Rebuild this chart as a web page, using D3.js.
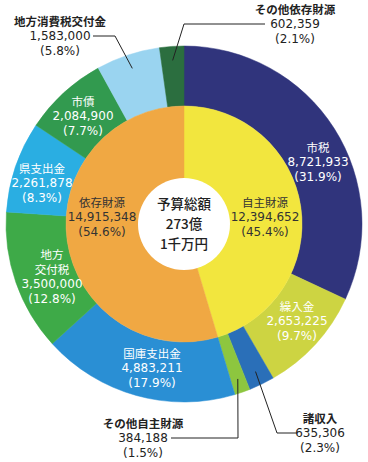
<!DOCTYPE html>
<html>
<head>
<meta charset="utf-8">
<script src="https://cdn.jsdelivr.net/npm/d3@7"></script>
<style>
	body { margin: 0; background: #fff; }
	svg text { font-family: "Noto Sans CJK JP", "Noto Sans", sans-serif; }
	svg tspan.num { font-family: "DejaVu Sans", "Noto Sans", sans-serif; }
</style>
</head>
<body>
<svg id="chart" width="368" height="462"></svg>
<script>
// data
var groups	= ["自主財源", "依存財源"];
var groupValues	= [12394652, 14915348];
var groupPct	= ["45.4%", "54.6%"];

var items	= ["市税", "繰入金", "諸収入", "その他自主財源", "国庫支出金", "地方交付税", "県支出金", "市債", "地方消費税交付金", "その他依存財源"];
var itemValues	= [8721933, 2653225, 635306, 384188, 4883211, 3500000, 2261878, 2084900, 1583000, 602359];
var itemPct	= ["31.9%", "9.7%", "2.3%", "1.5%", "17.9%", "12.8%", "8.3%", "7.7%", "5.8%", "2.1%"];
var centerText	= ["予算総額", "273億", "1千万円"];

// layout
var cx = 184, cy = 224, rOut = 178, rMid = 118, rHole = 46;
var groupColor	= ["#f2e63e", "#f0a843"];
var itemColor	= ["#30347c", "#cdd442", "#2a6fb8", "#8dc63f", "#2a8fd4", "#3eaa48", "#2aaee2", "#329a4f", "#9ad4f0", "#2b6e3f"];

// where each label block sits (first line), outside ones get a leader line
var itemLabel = {
	"市税":		{x: 318, y: 147},
	"繰入金":	{x: 297, y: 306},
	"諸収入":	{x: 320, y: 418, out: true, elbow: [297, 277]},
	"その他自主財源":	{x: 143, y: 423, out: true, elbow: [171, 238]},
	"国庫支出金":	{x: 152, y: 353},
	"地方交付税":	{x: 52, y: 254, lines: ["地方", "交付税"]},
	"県支出金":	{x: 42, y: 168},
	"市債":		{x: 83, y: 101},
	"地方消費税交付金":	{x: 60, y: 21, out: true, elbow: [93, 115]},
	"その他依存財源":	{x: 295, y: 9, out: true, elbow: [265, 184]}
};
var groupLabel = [{x: 265, y: 202}, {x: 102, y: 202}];
var lh = 15;

var svg = d3.select("#chart");
var g = svg.append("g").attr("transform", "translate(" + cx + "," + cy + ")");

var pie = d3.pie().sort(null).value(function(d) { return d; });
var innerArc = d3.arc().innerRadius(0).outerRadius(rMid);
var outerArc = d3.arc().innerRadius(rMid).outerRadius(rOut);
var anchorArc = d3.arc().innerRadius(164).outerRadius(164);

var outerData = pie(itemValues);

g.selectAll("path.outer").data(outerData).enter().append("path")
	.attr("class", "outer")
	.attr("d", outerArc)
	.attr("fill", function(d, i) { return itemColor[i]; })
	.attr("stroke", function(d, i) { return itemColor[i]; })
	.attr("stroke-width", 0.5);

g.selectAll("path.inner").data(pie(groupValues)).enter().append("path")
	.attr("class", "inner")
	.attr("d", innerArc)
	.attr("fill", function(d, i) { return groupColor[i]; })
	.attr("stroke", function(d, i) { return groupColor[i]; })
	.attr("stroke-width", 0.5);

g.append("circle").attr("r", rHole).attr("fill", "#fff");

// leader lines
outerData.forEach(function(d, i) {
	var L = itemLabel[items[i]];
	if (!L.out) return;
	var a = anchorArc.centroid(d);
	var ly = L.y + lh;
	svg.append("polyline")
		.attr("points", [[L.elbow[0], ly], [L.elbow[1], ly], [a[0] + cx, a[1] + cy]].map(function(p) { return p.join(","); }).join(" "))
		.attr("fill", "none")
		.attr("stroke", "#222")
		.attr("stroke-width", 1);
});

function block(x, y, lines, fill, boldFirst) {
	lines.forEach(function(s, k) {
		var num = /[0-9]/.test(s);
		svg.append("text")
			.attr("text-anchor", "middle")
			.attr("fill", fill)
			.append("tspan")
			.attr("class", num ? "num" : null)
			.attr("x", x)
			.attr("y", y + k * lh)
			.attr("dominant-baseline", "central")
			.attr("font-size", num ? 12 : 11.5)
			.attr("font-weight", (boldFirst && k == 0) ? 700 : 400)
			.text(s);
	});
}

items.forEach(function(name, i) {
	var L = itemLabel[name];
	var lines = (L.lines || [name]).concat([d3.format(",")(itemValues[i]), "(" + itemPct[i] + ")"]);
	block(L.x, L.y, lines, L.out ? "#222" : "#fff", L.out);
});

groups.forEach(function(name, i) {
	var L = groupLabel[i];
	block(L.x, L.y, [name, d3.format(",")(groupValues[i]), "(" + groupPct[i] + ")"], "#333", false);
});

// total in the hole
centerText.forEach(function(s, k) {
	svg.append("text").attr("text-anchor", "middle").attr("fill", "#222")
		.attr("x", cx).attr("y", 203 + k * 20)
		.attr("dominant-baseline", "central")
		.attr("font-size", 13.5)
		.attr("font-weight", 500)
		.text(s);
});
</script>
</body>
</html>
